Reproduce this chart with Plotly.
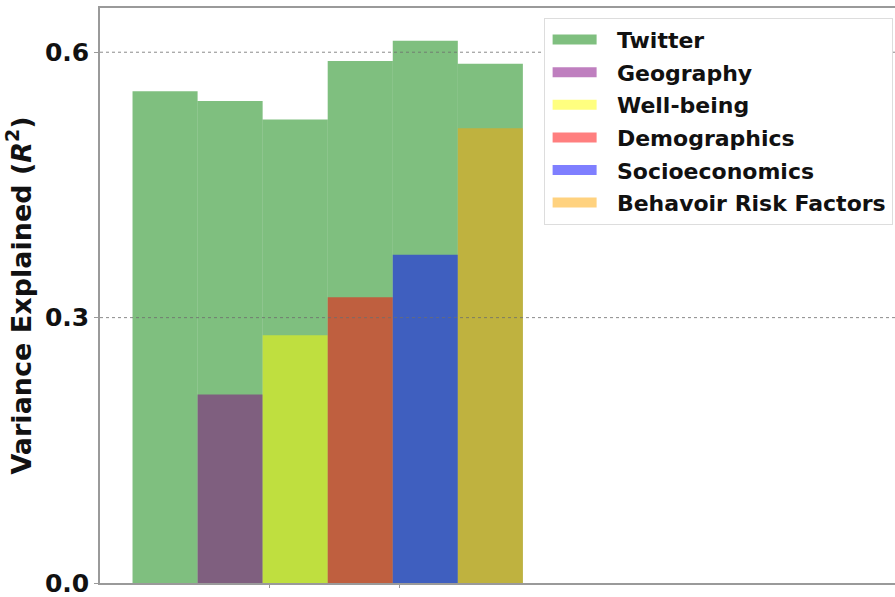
import plotly.graph_objects as go

# ---- data ----
positions = [0, 1, 2, 3, 4, 5]
twitter = [0.556, 0.545, 0.524, 0.590, 0.613, 0.587]

series_names = ["Geography", "Well-being", "Demographics", "Socioeconomics", "Behavoir Risk Factors"]
series_pos = [1, 2, 3, 4, 5]
series_vals = [0.213, 0.280, 0.323, 0.371, 0.514]
series_colors = [
    "rgba(128,0,128,0.5)",
    "rgba(255,255,0,0.5)",
    "rgba(255,0,0,0.5)",
    "rgba(0,0,255,0.5)",
    "rgba(255,165,0,0.5)",
]
twitter_color = "rgba(0,128,0,0.5)"

y_ticks = [0.0, 0.3, 0.6]
y_tick_text = ["0.0", "0.3", "0.6"]
x_ticks = [1.6, 3.6]
y_range = [0, 0.65]
x_range = [-1.0, 11.22]

fig = go.Figure()
all_names = ["Twitter"] + series_names
all_colors = [twitter_color] + series_colors

fig.add_trace(go.Bar(x=positions, y=twitter, width=1, name="Twitter",
                     marker=dict(color=twitter_color, line=dict(width=0)),
                     legendgroup="g0", showlegend=False))
for i, (n, p, v, c) in enumerate(zip(series_names, series_pos, series_vals, series_colors)):
    fig.add_trace(go.Bar(x=[p], y=[v], width=1, name=n,
                         marker=dict(color=c, line=dict(width=0)),
                         legendgroup=f"g{i+1}", showlegend=False))

# legend entries drawn as wide patches (like matplotlib rectangles)
for i, (n, c) in enumerate(zip(all_names, all_colors)):
    fig.add_trace(go.Scatter(x=[None], y=[None], mode="lines", name="\u00a0\u00a0" + n,
                             line=dict(color=c, width=15),
                             legendgroup=f"g{i}", showlegend=True))

# dashed grid lines drawn above the bars
for t in y_ticks:
    if t > 0:
        fig.add_shape(type="line", xref="paper", x0=0, x1=1, yref="y", y0=t, y1=t,
                      line=dict(color="rgba(110,110,110,0.8)", width=1, dash="3px,3px"),
                      layer="above")

axis_font = dict(family="DejaVu Sans", size=25, color="#111111", weight="bold")

fig.update_layout(
    width=895, height=597,
    margin=dict(l=100, r=0, t=8, b=14),
    paper_bgcolor="white", plot_bgcolor="white",
    barmode="overlay",
    showlegend=True,
    legend=dict(
        x=0.558, y=0.983, xanchor="left", yanchor="top",
        bgcolor="white", bordercolor="#dddddd", borderwidth=1,
        font=dict(family="DejaVu Sans", size=22, color="#111111", weight="bold"),
        tracegroupgap=1, itemwidth=44, indentation=3,
    ),
    xaxis=dict(
        range=x_range, showgrid=False, zeroline=False,
        showline=True, linecolor="#9a9a9a", linewidth=1.5, mirror=True,
        tickvals=x_ticks, showticklabels=False, ticks="outside", ticklen=3,
        tickcolor="#9a9a9a",
    ),
    yaxis=dict(
        range=y_range, showgrid=False, zeroline=False,
        showline=True, linecolor="#9a9a9a", linewidth=1.5, mirror=False,
        tickvals=y_ticks, ticktext=y_tick_text, ticks="outside", ticklen=4,
        tickcolor="#9a9a9a", tickfont=axis_font, ticklabeloverflow="allow",
        title=dict(text="Variance Explained (<i>R</i><sup>2</sup>)",
                   font=dict(family="DejaVu Sans", size=27, color="#111111", weight="bold"),
                   standoff=6),
    ),
)

fig.write_html("out.html", config={"displayModeBar": False},
               post_script="document.body.style.margin='0px';")
